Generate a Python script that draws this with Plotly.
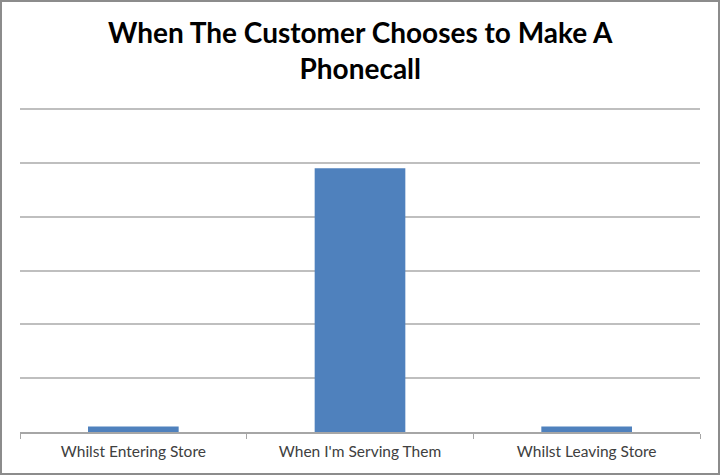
import plotly.graph_objects as go

categories = ["Whilst Entering Store", "When I'm Serving Them", "Whilst Leaving Store"]
values = [0.1, 4.9, 0.1]

W, H = 720, 475
L, R, T, B = 20, 20, 108, 43
pw, ph = W - L - R, H - T - B

fig = go.Figure(go.Bar(x=categories, y=values, marker_color="#4f81bd",
                       marker_line_width=0, width=0.4))

fig.update_layout(
    width=W, height=H,
    margin=dict(l=L, r=R, t=T, b=B, autoexpand=False),
    paper_bgcolor="white", plot_bgcolor="white",
    showlegend=False,
    font=dict(family="Lato", size=15.5, color="#404040"),
)
fig.add_annotation(text="When The Customer Chooses to Make A<br>Phonecall",
                   xref="paper", yref="paper", x=0.5, xanchor="center",
                   y=1 + (T - 13) / ph, yanchor="top", showarrow=False,
                   font=dict(family="Lato", size=28, color="black", weight="bold"))
fig.update_xaxes(showline=True, linecolor="#a6a6a6", linewidth=1.5, automargin=False,
                 ticks="outside", tickson="boundaries", ticklen=5, tickcolor="#a6a6a6",
                 ticklabelstandoff=5,
                 showgrid=False, tickfont=dict(size=15.5, color="#404040"))
fig.update_yaxes(range=[0, 6.02], dtick=1, showticklabels=False, showgrid=True, automargin=False,
                 gridcolor="#bfbfbf", gridwidth=1.5, zeroline=False, showline=False)

fig.add_shape(type="rect", xref="paper", yref="paper",
              x0=-(L - 1) / pw, x1=1 + (R - 1) / pw,
              y0=-(B - 1) / ph, y1=1 + (T - 1) / ph,
              line=dict(color="#8c8c8c", width=2))

fig.write_html("out.html", config={"displayModeBar": False},
               post_script="document.body.style.margin='0';document.body.style.overflow='hidden';")
